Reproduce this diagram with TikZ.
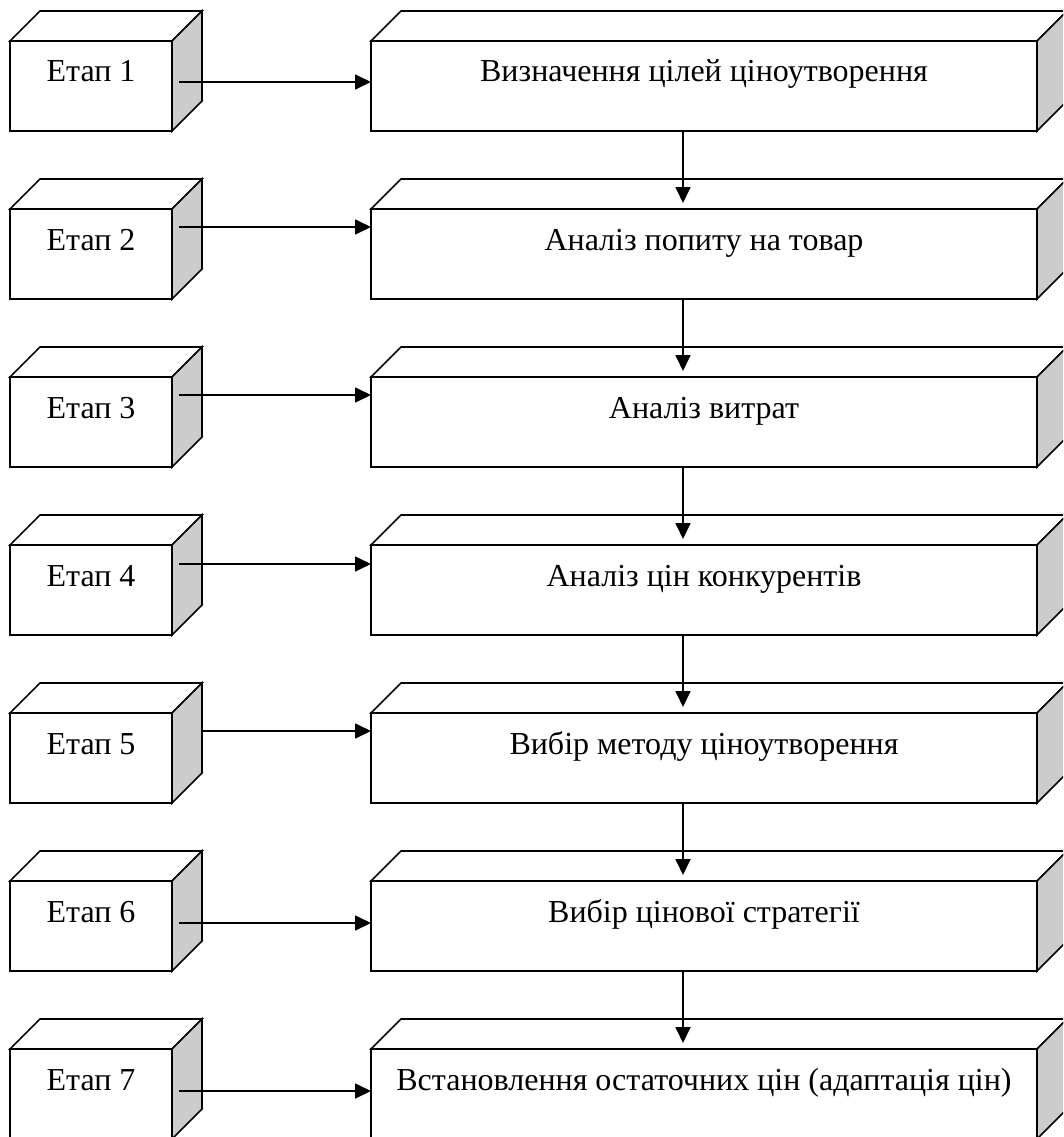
\documentclass[tikz,border=0pt]{standalone}
\usepackage{fontspec}
\setmainfont{Liberation Serif}
\usetikzlibrary{arrows.meta}
\definecolor{sidegray}{gray}{0.8}
\begin{document}
\begin{tikzpicture}[x=1pt,y=-1pt,
  stage/.style={draw, fill=white, line width=1.7pt, rectangle, inner sep=0pt, outer sep=0pt,
    minimum width=162pt, minimum height=90pt, text height=41pt, text depth=49pt,
    anchor=north west, font=\fontsize{32}{38}\selectfont},
  task/.style={stage, minimum width=666pt},
  face/.style={draw, line width=1.7pt, line join=miter, fill=white},
  side/.style={face, fill=sidegray},
  link/.style={line width=1.7pt, -{Triangle[length=16pt,width=15pt]}}]
\useasboundingbox (0,0) rectangle (1063,1137);
\clip (0,0) rectangle (1063,1137);

% stage labels (left column) and the steps they introduce (right column)
\node[stage] (s1) at (10,41)   {Етап 1};
\node[stage] (s2) at (10,209)  {Етап 2};
\node[stage] (s3) at (10,377)  {Етап 3};
\node[stage] (s4) at (10,545)  {Етап 4};
\node[stage] (s5) at (10,713)  {Етап 5};
\node[stage] (s6) at (10,881)  {Етап 6};
\node[stage] (s7) at (10,1049) {Етап 7};

\node[task] (t1) at (371,41)   {Визначення цілей ціноутворення};
\node[task] (t2) at (371,209)  {Аналіз попиту на товар};
\node[task] (t3) at (371,377)  {Аналіз витрат};
\node[task] (t4) at (371,545)  {Аналіз цін конкурентів};
\node[task] (t5) at (371,713)  {Вибір методу ціноутворення};
\node[task] (t6) at (371,881)  {Вибір цінової стратегії};
\node[task] (t7) at (371,1049) {Встановлення остаточних цін (адаптація цін)};

% top and right faces that turn each box into a block
\foreach \n in {s1,s2,s3,s4,s5,s6,s7,t1,t2,t3,t4,t5,t6,t7}{
  \draw[face] (\n.north west) -- ++(30,-30) -- ([shift={(30,-30)}]\n.north east)
    -- (\n.north east) -- cycle;
  \draw[side] (\n.north east) -- ++(30,-30) -- ([shift={(30,-30)}]\n.south east)
    -- (\n.south east) -- cycle;
}

% stage -> step arrows (start offset, depth below the top edge)
\foreach \i/\d/\sx in {1/41/7, 2/18/7, 3/18/7, 4/19/7, 5/18/31, 6/42/7, 7/42/7}{
  \draw[link] ([shift={(\sx,\d)}]s\i.north east) -- ([shift={(0,\d)}]t\i.north west);
}

% step -> next step arrows
\foreach \i in {1,...,6}{
  \pgfmathtruncatemacro\j{\i+1}
  \draw[link] ([xshift=312pt]t\i.south west) -- ([xshift=312pt,yshift=6pt]t\j.north west);
}
\end{tikzpicture}
\end{document}
